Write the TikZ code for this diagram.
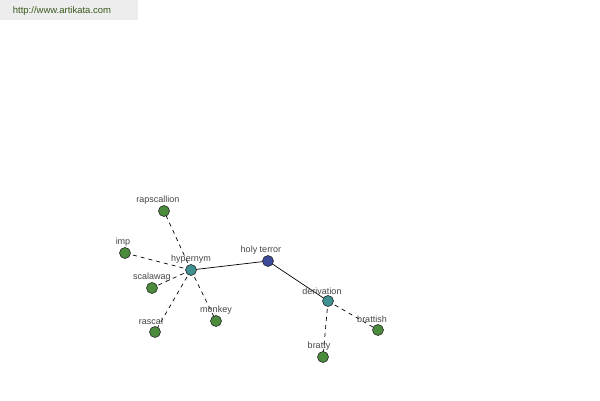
\documentclass[tikz,border=0pt]{standalone}
\usepackage{fontspec}
\setmainfont{Liberation Sans}
\usetikzlibrary{backgrounds}
\definecolor{leafc}{HTML}{4A8C3C}
\definecolor{midc}{HTML}{3F9090}
\definecolor{rootc}{HTML}{3D4A9A}
\definecolor{urlc}{HTML}{3A5A1E}
\definecolor{lblc}{HTML}{444444}
\begin{document}
\begin{tikzpicture}[x=1pt,y=-1pt,
  dot/.style={circle,draw=black!85,line width=0.6pt,minimum size=11pt,inner sep=0pt},
  leaf/.style={dot,fill=leafc},
  mid/.style={dot,fill=midc},
  root/.style={dot,fill=rootc},
  lbl/.style={font=\fontsize{9}{10}\selectfont,text=lblc,inner sep=0pt},
  link/.style={draw=black,line width=0.7pt},
  dlink/.style={draw=black,line width=0.7pt,dash pattern=on 4pt off 4pt}]
\useasboundingbox (0,0) rectangle (600,400);
\fill[black!7] (0,0) rectangle (138,20);
\node[font=\fontsize{9.5}{10}\selectfont,text=urlc,inner sep=0pt] (url) at (62,11) {http://www.artikata.com};
\node[root] (ht) at (268,261) {};
\node[mid] (hy) at (191,270) {};
\node[mid] (de) at (328,301) {};
\node[leaf] (rap) at (164,211) {};
\node[leaf] (imp) at (125,253) {};
\node[leaf] (sca) at (152,288) {};
\node[leaf] (ras) at (155,332) {};
\node[leaf] (mon) at (216,321) {};
\node[leaf] (bri) at (378,330) {};
\node[leaf] (bry) at (323,357) {};
\begin{pgfonlayer}{background}
\draw[link] (hy.center) -- (ht.center);
\draw[link] (ht.center) -- (de.center);
\draw[dlink] (hy.center) -- (rap.center);
\draw[dlink] (hy.center) -- (imp.center);
\draw[dlink] (hy.center) -- (sca.center);
\draw[dlink] (hy.center) -- (ras.center);
\draw[dlink] (hy.center) -- (mon.center);
\draw[dlink] (de.center) -- (bri.center);
\draw[dlink] (de.center) -- (bry.center);
\end{pgfonlayer}
\node[lbl] (lht) at (261,250) {holy terror};
\node[lbl] (lhy) at (191,259) {hypernym};
\node[lbl] (lde) at (322,291) {derivation};
\node[lbl] (lrap) at (158,200) {rapscallion};
\node[lbl] (limp) at (123,242) {imp};
\node[lbl] (lsca) at (152,277) {scalawag};
\node[lbl] (lras) at (151,321) {rascal};
\node[lbl] (lmon) at (216,310) {monkey};
\node[lbl] (lbri) at (372,319) {brattish};
\node[lbl] (lbry) at (319,346) {bratty};
\end{tikzpicture}
\end{document}
